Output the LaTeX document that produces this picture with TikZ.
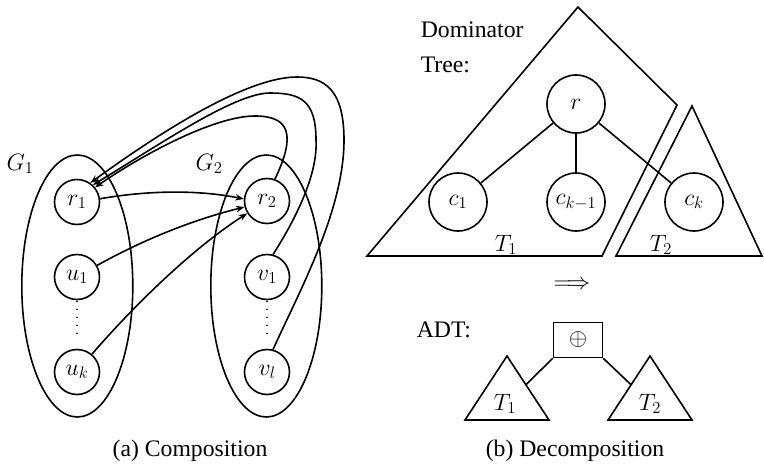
\RequirePackage{fix-cm}
\documentclass[tikz,border=0pt]{standalone}
\usepackage[no-math]{fontspec}
\setmainfont{Liberation Serif}
\usetikzlibrary{arrows.meta,calc}
\begin{document}
\begin{tikzpicture}[x=1pt,y=-1pt,
  every node/.style={font=\fontsize{23.7}{35}\selectfont},
  line width=1.6pt,
  vtx/.style={draw, circle, minimum size=45pt, inner sep=0pt},
  tvtx/.style={draw, circle, minimum size=58pt, inner sep=0pt},
  lbl/.style={inner sep=0pt},
  arr/.style={-{Stealth[length=8.5pt,width=6.5pt]}},
  dotsline/.style={line cap=round, dash pattern=on 0.01pt off 8pt},
  opbox/.style={draw, minimum width=49pt, minimum height=35pt, inner sep=0pt},
]
\useasboundingbox (0,0) rectangle (764,466);

% ---------- (a) Composition ----------
\draw (77.3,286) ellipse [x radius=55.5, y radius=131];
\draw (266.3,286) ellipse [x radius=55.5, y radius=131];
\node[lbl] (g1) at (20,164) {$G_1$};
\node[lbl] (g2) at (209,164) {$G_2$};

\node[vtx] (r1) at (77,202) {$r_1$};
\node[vtx] (u1) at (77,277) {$u_1$};
\node[vtx] (uk) at (77,372) {$u_k$};
\node[vtx] (r2) at (267,201) {$r_2$};
\node[vtx] (v1) at (267,277) {$v_1$};
\node[vtx] (vl) at (267,372) {$v_l$};

\draw[dotsline] ([yshift=-1pt]u1.south) -- ([yshift=8pt]uk.north);
\draw[dotsline] ([yshift=-1pt]v1.south) -- ([yshift=8pt]vl.north);

\draw[arr] (r1.8) .. controls (150,190) and (200,190) .. (r2.175);
\draw[arr] (u1.30) .. controls (150,236) and (200,218) .. (r2.195);
\draw[arr] (uk.50) .. controls (130,310) and (190,250) .. (r2.212);

\draw[arr] (r2.70) .. controls (296,135) and (290,116) .. (255,116)
  .. controls (215,116) and (145,153) .. (r1.39);
\draw[arr] (v1.75) .. controls (295,220) and (318,175) .. (316,140)
  .. controls (316,100) and (300,93) .. (270,93)
  .. controls (235,93) and (162,143) .. (r1.47);
\draw[arr] (vl.75) .. controls (300,290) and (344,210) .. (344,140)
  .. controls (344,90) and (325,77) .. (297,77)
  .. controls (250,77) and (170,125) .. (r1.55);

\node[anchor=base, lbl] (capa) at (190,456) {(a) Composition};

% ---------- (b) Decomposition ----------
\draw (578,7) -- (677,105) -- (602,256) -- (367,256) -- cycle;
\draw (692,106) -- (762,256) -- (616,256) -- cycle;
\node[align=left, anchor=north west, inner sep=0pt] (dt) at (420,21) {Dominator\\Tree:};

\node[tvtx] (r) at (576,104) {$r$};
\node[tvtx] (c1) at (458,202) {$c_1$};
\node[tvtx] (ck1) at (576,202) {$c_{k-1}$};
\node[tvtx] (ck) at (694,202) {$c_k$};
\draw (r) -- (c1);
\draw (r) -- (ck1);
\draw (r) -- (ck);
\node[anchor=base, lbl] (t1lab) at (506,251) {$T_1$};
\node[anchor=base, lbl] (t2lab) at (661,251) {$T_2$};

\node[lbl] (impl) at (572,285) {$\Longrightarrow$};

\node[anchor=base west, lbl] (adt) at (416,337) {ADT:};
\node[opbox] (op) at (578,340) {$\oplus$};

\coordinate (a1) at (507,356);
\coordinate (b1) at (465,420);
\coordinate (e1) at (549,420);
\coordinate (a2) at (650,356);
\coordinate (b2) at (608,420);
\coordinate (e2) at (692,420);
\draw (a1) -- (e1) -- (b1) -- cycle;
\draw (a2) -- (e2) -- (b2) -- cycle;
\coordinate (p1) at ($(a1)!0.45!(e1)$);
\coordinate (p2) at ($(a2)!0.45!(b2)$);
\draw (op.south west) -- (p1);
\draw (op.south east) -- (p2);
\node[anchor=base, lbl] (st1) at (505,410) {$T_1$};
\node[anchor=base, lbl] (st2) at (650,410) {$T_2$};

\node[anchor=base, lbl] (capb) at (575,456) {(b) Decomposition};
\end{tikzpicture}
\end{document}
